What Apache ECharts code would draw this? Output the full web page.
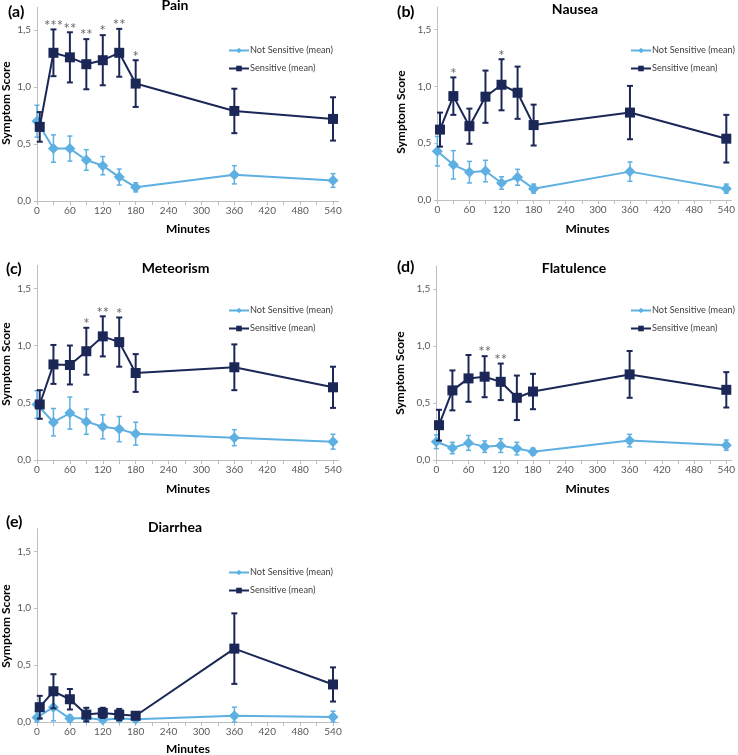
<!DOCTYPE html>
<html>
<head>
<meta charset="utf-8">
<script src="https://cdn.jsdelivr.net/npm/echarts@6/dist/echarts.min.js"></script>
<style>html,body{margin:0;padding:0;background:#fff}#c{width:738px;height:755px}</style>
</head>
<body>
<div id="c"></div>
<script>
// ---- data ----
const minutesNS = [0, 30, 60, 90, 120, 150, 180, 360, 540];
const minutesS  = [5, 30, 60, 90, 120, 150, 180, 360, 540];
const xTicks  = [0,30,60,90,120,150,180,210,240,270,300,330,360,390,420,450,480,510,540];
const xLabels = [0,60,120,180,240,300,360,420,480,540];
const yLabels = [0, 0.5, 1.0, 1.5];

const painNS     = [0.70, 0.46, 0.46, 0.36, 0.31, 0.21, 0.12, 0.23, 0.18];
const painNSErr  = [0.14, 0.12, 0.11, 0.09, 0.08, 0.07, 0.04, 0.08, 0.06];
const painS      = [0.65, 1.30, 1.26, 1.20, 1.235, 1.30, 1.03, 0.79, 0.72];
const painSErr   = [0.13, 0.205, 0.22, 0.22, 0.22, 0.21, 0.205, 0.195, 0.19];
const painSig    = ['', '***', '**', '**', '*', '**', '*', '', ''];

const nauseaNS    = [0.43, 0.31, 0.245, 0.255, 0.15, 0.20, 0.10, 0.25, 0.10];
const nauseaNSErr = [0.13, 0.125, 0.095, 0.095, 0.055, 0.07, 0.04, 0.085, 0.04];
const nauseaS     = [0.62, 0.915, 0.65, 0.91, 1.015, 0.945, 0.66, 0.77, 0.54];
const nauseaSErr  = [0.15, 0.165, 0.155, 0.23, 0.225, 0.23, 0.18, 0.235, 0.21];
const nauseaSig   = ['', '*', '', '', '*', '', '', '', ''];

const meteorNS    = [0.485, 0.33, 0.41, 0.335, 0.29, 0.27, 0.23, 0.195, 0.16];
const meteorNSErr = [0.12, 0.12, 0.14, 0.11, 0.105, 0.11, 0.10, 0.07, 0.065];
const meteorS     = [0.485, 0.835, 0.83, 0.95, 1.08, 1.03, 0.76, 0.81, 0.635];
const meteorSErr  = [0.125, 0.17, 0.17, 0.205, 0.175, 0.215, 0.165, 0.20, 0.18];
const meteorSig   = ['', '', '', '*', '**', '*', '', '', ''];

const flatNS    = [0.16, 0.105, 0.15, 0.117, 0.126, 0.10, 0.073, 0.17, 0.13];
const flatNSErr = [0.06, 0.05, 0.065, 0.05, 0.06, 0.055, 0.03, 0.055, 0.045];
const flatS     = [0.305, 0.61, 0.715, 0.73, 0.685, 0.545, 0.60, 0.75, 0.615];
const flatSErr  = [0.135, 0.175, 0.205, 0.18, 0.16, 0.195, 0.155, 0.205, 0.155];
const flatSig   = ['', '', '', '**', '**', '', '', '', ''];

const diarNS    = [0.04, 0.13, 0.03, 0.035, 0.02, 0.03, 0.025, 0.055, 0.045];
const diarNSErr = [0.05, 0.12, 0.03, 0.09, 0.02, 0.02, 0.02, 0.075, 0.05];
const diarS     = [0.13, 0.27, 0.20, 0.065, 0.08, 0.065, 0.055, 0.645, 0.33];
const diarSErr  = [0.10, 0.15, 0.09, 0.06, 0.045, 0.05, 0.03, 0.31, 0.15];
const diarSig   = ['', '', '', '', '', '', '', '', ''];

const titles = ['Pain', 'Nausea', 'Meteorism', 'Flatulence', 'Diarrhea'];
const letters = ['(a)', '(b)', '(c)', '(d)', '(e)'];
const nameNS = 'Not Sensitive (mean)';
const nameS = 'Sensitive (mean)';

// ---- layout / style ----
const FONT = 'Lato, "Open Sans", sans-serif';
const LIGHT = '#5DB0E1';
const DARK = '#1B2756';
const panels = [
  {ns: painNS, nsErr: painNSErr, s: painS, sErr: painSErr, sig: painSig,
   grid: {left: 37, top: 7.2, width: 301.5, height: 193.8},
   title: [175, 5], letter: [8, 12], ytitle: [6, 103], xtitle: [188, 229.5], legend: [223, 41]},
  {ns: nauseaNS, nsErr: nauseaNSErr, s: nauseaS, sErr: nauseaSErr, sig: nauseaSig,
   grid: {left: 437.3, top: 7, width: 299.4, height: 193},
   title: [575, 9.5], letter: [397, 12], ytitle: [401.5, 112], xtitle: [587.5, 229.5], legend: [625, 41]},
  {ns: meteorNS, nsErr: meteorNSErr, s: meteorS, sErr: meteorSErr, sig: meteorSig,
   grid: {left: 37, top: 265.4, width: 301.5, height: 194.6},
   title: [175.5, 268], letter: [6, 269], ytitle: [6, 364], xtitle: [188, 489], legend: [223, 301]},
  {ns: flatNS, nsErr: flatNSErr, s: flatS, sErr: flatSErr, sig: flatSig,
   grid: {left: 436.3, top: 266, width: 301, height: 194},
   title: [574, 268], letter: [397, 267], ytitle: [400.5, 373], xtitle: [587.5, 489], legend: [625, 301]},
  {ns: diarNS, nsErr: diarNSErr, s: diarS, sErr: diarSErr, sig: diarSig,
   grid: {left: 37, top: 528.6, width: 301.5, height: 193.4},
   title: [175, 527], letter: [6, 522], ytitle: [6, 626], xtitle: [188, 749], legend: [223, 563]}
];

function errRender(capW, lw, color) {
  return function (params, api) {
    const x = api.value(0), m = api.value(1), e = api.value(2);
    const top = api.coord([x, m + e]);
    const bot = api.coord([x, Math.max(0, m - e)]);
    const st = {stroke: color, lineWidth: lw};
    return {type: 'group', children: [
      {type: 'line', shape: {x1: top[0], y1: top[1], x2: bot[0], y2: bot[1]}, style: st},
      {type: 'line', shape: {x1: top[0] - capW / 2, y1: top[1], x2: top[0] + capW / 2, y2: top[1]}, style: st},
      {type: 'line', shape: {x1: bot[0] - capW / 2, y1: bot[1], x2: bot[0] + capW / 2, y2: bot[1]}, style: st}
    ]};
  };
}

const grids = [], xAxes = [], yAxes = [], series = [], legends = [], graphics = [];
panels.forEach((p, i) => {
  grids.push(Object.assign({containLabel: false}, p.grid));
  xAxes.push({
    type: 'value', gridIndex: i, min: 0, max: 550,
    axisLine: {show: true, lineStyle: {color: '#BFBFBF', width: 1}},
    axisTick: {show: true, length: 4, customValues: xTicks, lineStyle: {color: '#BFBFBF'}},
    axisLabel: {customValues: xLabels, fontSize: 10, color: '#595959', fontFamily: FONT, margin: 5},
    splitLine: {show: false}
  });
  yAxes.push({
    type: 'value', gridIndex: i, min: 0, max: 1.7,
    axisLine: {show: true, lineStyle: {color: '#BFBFBF', width: 1}},
    axisTick: {show: true, length: 3, customValues: yLabels, lineStyle: {color: '#BFBFBF'}},
    axisLabel: {customValues: yLabels, fontSize: 10, color: '#595959', fontFamily: FONT, margin: 6,
      formatter: v => v.toFixed(1).replace('.', ',')},
    splitLine: {show: false}
  });
  const nsData = minutesNS.map((m, k) => [m, p.ns[k]]);
  const nsErrData = minutesNS.map((m, k) => [m, p.ns[k], p.nsErr[k]]);
  const sData = minutesS.map((m, k) => [m, p.s[k]]);
  const sErrData = minutesS.map((m, k) => [m, p.s[k], p.sErr[k]]);
  const sigData = minutesS.map((m, k) => ({value: [m, p.s[k] + p.sErr[k]], label: {formatter: p.sig[k]}}));
  series.push({
    type: 'line', name: nameNS, xAxisIndex: i, yAxisIndex: i, data: nsData,
    symbol: 'diamond', symbolSize: 11, color: LIGHT,
    lineStyle: {color: LIGHT, width: 2}, itemStyle: {color: LIGHT}, z: 2, animation: false
  });
  series.push({
    type: 'custom', name: nameNS + ' err', xAxisIndex: i, yAxisIndex: i, data: nsErrData,
    renderItem: errRender(5, 1.5, LIGHT), encode: {x: 0, y: 1}, z: 2, animation: false
  });
  series.push({
    type: 'custom', name: nameS + ' err', xAxisIndex: i, yAxisIndex: i, data: sErrData,
    renderItem: errRender(6, 2, DARK), encode: {x: 0, y: 1}, z: 3, animation: false
  });
  series.push({
    type: 'line', name: nameS, xAxisIndex: i, yAxisIndex: i, data: sData,
    symbol: 'rect', symbolSize: 10, color: DARK,
    lineStyle: {color: DARK, width: 2}, itemStyle: {color: DARK}, z: 4, animation: false
  });
  series.push({
    type: 'scatter', name: 'sig', xAxisIndex: i, yAxisIndex: i, data: sigData,
    symbolSize: 0, silent: true, z: 5, animation: false,
    label: {show: true, position: 'top', distance: -4, fontSize: 15, color: '#404040', fontFamily: FONT}
  });
  legends.push({
    data: [nameNS, nameS], orient: 'vertical', left: p.legend[0], top: p.legend[1],
    itemWidth: 20, itemHeight: 7, itemGap: 9, selectedMode: false,
    textStyle: {fontSize: 9.2, color: '#404040', fontFamily: FONT, padding: [0, 0, 0, -4]}
  });
  graphics.push({type: 'text', x: p.title[0], y: p.title[1],
    style: {text: titles[i], font: 'bold 14px ' + FONT, fill: '#000', textAlign: 'center', textVerticalAlign: 'middle'}});
  graphics.push({type: 'text', x: p.letter[0], y: p.letter[1],
    style: {text: letters[i], font: 'bold 16px ' + FONT, fill: '#000', textAlign: 'left', textVerticalAlign: 'middle'}});
  graphics.push({type: 'text', x: p.xtitle[0], y: p.xtitle[1],
    style: {text: 'Minutes', font: 'bold 12px ' + FONT, fill: '#000', textAlign: 'center', textVerticalAlign: 'middle'}});
  graphics.push({type: 'text', x: p.ytitle[0], y: p.ytitle[1], rotation: Math.PI / 2,
    style: {text: 'Symptom Score', font: 'bold 12px ' + FONT, fill: '#000', textAlign: 'center', textVerticalAlign: 'middle'}});
});

const chart = echarts.init(document.getElementById('c'), null, {renderer: 'canvas'});
chart.setOption({
  animation: false,
  backgroundColor: '#fff',
  grid: grids, xAxis: xAxes, yAxis: yAxes, series: series, legend: legends,
  graphic: graphics
});
</script>
</body>
</html>
